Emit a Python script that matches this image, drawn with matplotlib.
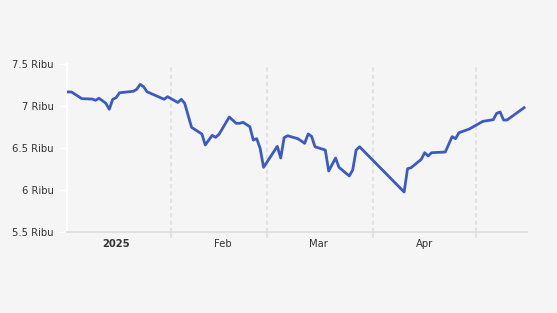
import matplotlib
matplotlib.use('Agg')
import numpy as np
import pandas as pd
import matplotlib.pyplot as plt
import matplotlib.dates as mdates
from matplotlib.ticker import FuncFormatter, FixedLocator

# index level (points)
dates = ['2025-01-02', '2025-01-03', '2025-01-06', '2025-01-09', '2025-01-10',
         '2025-01-11', '2025-01-12', '2025-01-13', '2025-01-14', '2025-01-15',
         '2025-01-16', '2025-01-17', '2025-01-21', '2025-01-22', '2025-01-23',
         '2025-01-24', '2025-01-25', '2025-01-30', '2025-01-31', '2025-02-03',
         '2025-02-04', '2025-02-05', '2025-02-07', '2025-02-10', '2025-02-11',
         '2025-02-13', '2025-02-14', '2025-02-15', '2025-02-18', '2025-02-20',
         '2025-02-21', '2025-02-22', '2025-02-24', '2025-02-25', '2025-02-26',
         '2025-02-27', '2025-02-28', '2025-03-04', '2025-03-05', '2025-03-06',
         '2025-03-07', '2025-03-10', '2025-03-12', '2025-03-13', '2025-03-14',
         '2025-03-15', '2025-03-18', '2025-03-19', '2025-03-21', '2025-03-22',
         '2025-03-25', '2025-03-26', '2025-03-27', '2025-03-28', '2025-04-10',
         '2025-04-11', '2025-04-12', '2025-04-15', '2025-04-16', '2025-04-17',
         '2025-04-18', '2025-04-22', '2025-04-24', '2025-04-25', '2025-04-26',
         '2025-04-29', '2025-05-03', '2025-05-06', '2025-05-07', '2025-05-08',
         '2025-05-09', '2025-05-10', '2025-05-15']
values = [7167, 7167, 7087, 7083, 7068,
          7092, 7063, 7032, 6961, 7080,
          7099, 7158, 7175, 7199, 7258,
          7230, 7170, 7080, 7111, 7042,
          7080, 7032, 6746, 6667, 6536,
          6651, 6627, 6663, 6869, 6794,
          6794, 6806, 6754, 6595, 6611,
          6496, 6270, 6520, 6381, 6623,
          6646, 6611, 6556, 6667, 6639,
          6515, 6476, 6226, 6381, 6270,
          6167, 6238, 6476, 6515, 5976,
          6254, 6265, 6365, 6444, 6405,
          6444, 6452, 6635, 6611, 6682,
          6726, 6818, 6837, 6913, 6929,
          6833, 6833, 6980]

yticks = [5500, 6000, 6500, 7000, 7500]
label_dates = ['2025-01-16', '2025-02-16', '2025-03-16', '2025-04-16']
label_text = ['2025', 'Feb', 'Mar', 'Apr']
month_starts = ['2025-02-01', '2025-03-01', '2025-04-01', '2025-05-01']

bg = '#f5f5f5'
txt = '#333333'
grid = '#dcdcdc'

x = pd.to_datetime(dates)

fig = plt.figure(figsize=(5.57, 3.13), dpi=100, facecolor=bg)
ax = fig.add_axes([0.1203, 0.2588, 0.9461 - 0.1203, 0.7955 - 0.2588], facecolor=bg)

ax.plot(x, values, color='#3b5bc2', lw=2.0, solid_joinstyle='round', zorder=3)

ax.set_xlim(pd.Timestamp('2025-01-01 16:00'), pd.Timestamp('2025-05-15 20:00'))
ax.set_ylim(5500, 7500)

ax.set_yticks(yticks)
ax.yaxis.set_major_formatter(FuncFormatter(lambda v, p: '{:g} Ribu'.format(v / 1000)))
ax.tick_params(axis='y', length=6, width=1, color='white', pad=3.5,
               labelsize=7.2, labelcolor=txt)

# month labels at mid-month, dashed grid at month starts
ax.xaxis.set_major_locator(FixedLocator(mdates.date2num(pd.to_datetime(label_dates))))
ax.set_xticklabels(label_text)
ax.xaxis.set_minor_locator(FixedLocator(mdates.date2num(pd.to_datetime(month_starts))))
ax.tick_params(axis='x', which='major', length=0, pad=5, labelsize=7.2, labelcolor=txt)
ax.tick_params(axis='x', which='minor', length=4, width=1.5, color='#e2e2e2')
ax.xaxis.grid(True, which='minor', color='#e2e2e2', linestyle=(0, (2, 1.5)), lw=1.5)
ax.get_xticklabels()[0].set_fontweight('bold')

for s in ['top', 'right']:
    ax.spines[s].set_visible(False)
ax.spines['left'].set_color('white')
ax.spines['left'].set_linewidth(1.5)
ax.spines['bottom'].set_color(grid)
ax.spines['bottom'].set_linewidth(1.2)

fig.savefig('out.png', dpi=100, facecolor=bg)
